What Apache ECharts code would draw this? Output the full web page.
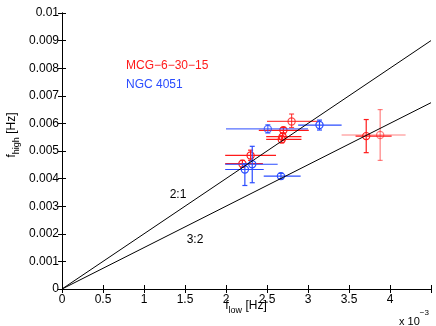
<!DOCTYPE html>
<html>
<head>
<meta charset="utf-8">
<script src="https://cdn.jsdelivr.net/npm/echarts@6/dist/echarts.min.js"></script>
<style>
  html, body { margin: 0; padding: 0; background: #fff; }
  #main { width: 436px; height: 326px; }
</style>
</head>
<body>
<div id="main"></div>
<script>
// f_low / f_high in Hz, error bars as lower / upper bounds
var mcgLow      = [0.00280, 0.00270, 0.00269, 0.00268, 0.00230, 0.00220, 0.00371, 0.00388];
var mcgHigh     = [0.00607, 0.00575, 0.00552, 0.00542, 0.00484, 0.00454, 0.00554, 0.00558];
var mcgLowMin   = [0.00250, 0.00240, 0.00249, 0.00249, 0.00199, 0.00199, 0.00358, 0.00341];
var mcgLowMax   = [0.00315, 0.00301, 0.00292, 0.00292, 0.00261, 0.00245, 0.00402, 0.00419];
var mcgHighMin  = [0.00585, 0.00565, 0.00540, 0.00530, 0.00466, 0.00441, 0.00494, 0.00466];
var mcgHighMax  = [0.00634, 0.00585, 0.00565, 0.00555, 0.00503, 0.00466, 0.00614, 0.00650];

var ngcLow      = [0.00251, 0.00314, 0.00232, 0.00223, 0.00267];
var ngcHigh     = [0.00580, 0.00594, 0.00452, 0.00433, 0.00409];
var ngcLowMin   = [0.00200, 0.00288, 0.00199, 0.00199, 0.00246];
var ngcLowMax   = [0.00300, 0.00341, 0.00263, 0.00246, 0.00291];
var ngcHighMin  = [0.00565, 0.00576, 0.00385, 0.00375, 0.00399];
var ngcHighMax  = [0.00595, 0.00612, 0.00517, 0.00454, 0.00419];

// resonance lines f_high = ratio * f_low
var lineLow  = [0, 0.0045];
var line21   = [0, 0.009];
var line32   = [0, 0.00675];

// drawing opacity per point (some points appear faded in the original)
var mcgAlpha = [0.8, 1, 1, 1, 1, 1, 1, 0.55];
var ngcAlpha = [0.8, 1, 1, 1, 1];

var RED = '#ff1a1a';
var BLUE = '#2a4cff';
var FONT = 'Liberation Sans, Arial, Helvetica, sans-serif';

function rows(lo, hi, loMin, loMax, hiMin, hiMax) {
  return lo.map(function (v, i) {
    return [v, hi[i], loMin[i], loMax[i], hiMin[i], hiMax[i]];
  });
}

function errItem(color, alpha) {
  return function (params, api) {
    var c = api.coord([api.value(0), api.value(1)]);
    var xl = api.coord([api.value(2), api.value(1)]);
    var xh = api.coord([api.value(3), api.value(1)]);
    var yl = api.coord([api.value(0), api.value(4)]);
    var yh = api.coord([api.value(0), api.value(5)]);
    var st = { stroke: color, lineWidth: 1.2, fill: null, opacity: alpha[params.dataIndex] };
    var cap = 2.5;
    return {
      type: 'group',
      children: [
        { type: 'line', shape: { x1: xl[0], y1: c[1], x2: xh[0], y2: c[1] }, style: st },
        { type: 'line', shape: { x1: c[0], y1: yl[1], x2: c[0], y2: yh[1] }, style: st },
        { type: 'line', shape: { x1: c[0] - cap, y1: yl[1], x2: c[0] + cap, y2: yl[1] }, style: st },
        { type: 'line', shape: { x1: c[0] - cap, y1: yh[1], x2: c[0] + cap, y2: yh[1] }, style: st },
        { type: 'circle', shape: { cx: c[0], cy: c[1], r: 3.6 }, style: st }
      ]
    };
  };
}

var chart = echarts.init(document.getElementById('main'), null, { renderer: 'canvas' });

var axisLine = { show: true, lineStyle: { color: '#000', width: 1 } };
var tickIn = { show: true, inside: true, length: 4, lineStyle: { color: '#000' } };

chart.setOption({
  animation: false,
  backgroundColor: '#fff',
  grid: { left: 62, top: 13, right: 5, bottom: 37 },
  xAxis: [
    {
      type: 'value', min: 0, max: 0.0045, interval: 0.0005,
      axisLine: axisLine, axisTick: tickIn, splitLine: { show: false },
      axisLabel: {
        color: '#000', fontSize: 12, fontFamily: FONT, margin: 5,
        formatter: function (v) {
          if (v > 0.00449) return '';
          return String(Math.round(v * 10000) / 10);
        }
      }
    },
    {
      type: 'value', position: 'top', min: 0, max: 0.0045, interval: 0.0005,
      axisLine: axisLine, axisTick: tickIn, axisLabel: { show: false }, splitLine: { show: false }
    }
  ],
  yAxis: [
    {
      type: 'value', min: 0, max: 0.01, interval: 0.001,
      axisLine: axisLine, axisTick: tickIn, splitLine: { show: false },
      axisLabel: {
        color: '#000', fontSize: 12, fontFamily: FONT, margin: 3,
        formatter: function (v) { return String(Math.round(v * 1000) / 1000); }
      }
    },
    {
      type: 'value', position: 'right', min: 0, max: 0.01, interval: 0.001,
      axisLine: axisLine, axisTick: tickIn, axisLabel: { show: false }, splitLine: { show: false }
    }
  ],
  series: [
    {
      type: 'line', silent: true, symbol: 'none',
      lineStyle: { color: '#000', width: 1 },
      data: lineLow.map(function (v, i) { return [v, line21[i]]; })
    },
    {
      type: 'line', silent: true, symbol: 'none',
      lineStyle: { color: '#000', width: 1 },
      data: lineLow.map(function (v, i) { return [v, line32[i]]; })
    },
    {
      type: 'custom', name: 'MCG−6−30−15',
      renderItem: errItem(RED, mcgAlpha),
      encode: { x: 0, y: 1 },
      data: rows(mcgLow, mcgHigh, mcgLowMin, mcgLowMax, mcgHighMin, mcgHighMax)
    },
    {
      type: 'custom', name: 'NGC 4051',
      renderItem: errItem(BLUE, ngcAlpha),
      encode: { x: 0, y: 1 },
      data: rows(ngcLow, ngcHigh, ngcLowMin, ngcLowMax, ngcHighMin, ngcHighMax)
    }
  ],
  graphic: [
    { type: 'text', left: 126, top: 60, style: { text: 'MCG−6−30−15', fill: RED, font: '12px ' + FONT } },
    { type: 'text', left: 126, top: 79, style: { text: 'NGC 4051', fill: BLUE, font: '12px ' + FONT } },
    { type: 'text', x: 178, y: 195, style: { text: '2:1', fill: '#000', font: '12px ' + FONT, align: 'center', verticalAlign: 'middle' } },
    { type: 'text', x: 195, y: 240, style: { text: '3:2', fill: '#000', font: '12px ' + FONT, align: 'center', verticalAlign: 'middle' } },
    {
      type: 'text', x: 246, y: 306,
      style: {
        text: '{a|f}{b|low}{a| [Hz]}', align: 'center', verticalAlign: 'middle',
        rich: {
          a: { fontSize: 12, fontFamily: FONT, fill: '#000', lineHeight: 18, verticalAlign: 'middle' },
          b: { fontSize: 9, fontFamily: FONT, fill: '#000', lineHeight: 18, verticalAlign: 'bottom' }
        }
      }
    },
    {
      type: 'text', x: 12, y: 135, rotation: Math.PI / 2,
      style: {
        text: '{a|f}{b|high}{a| [Hz]}', align: 'center', verticalAlign: 'middle',
        rich: {
          a: { fontSize: 12, fontFamily: FONT, fill: '#000', lineHeight: 18, verticalAlign: 'middle' },
          b: { fontSize: 9, fontFamily: FONT, fill: '#000', lineHeight: 18, verticalAlign: 'bottom' }
        }
      }
    },
    {
      type: 'text', x: 414, y: 318,
      style: {
        text: '{a|x 10}{b|−3}', align: 'center', verticalAlign: 'middle',
        rich: {
          a: { fontSize: 11, fontFamily: FONT, fill: '#000', lineHeight: 18, verticalAlign: 'bottom' },
          b: { fontSize: 8, fontFamily: FONT, fill: '#000', lineHeight: 18, verticalAlign: 'top' }
        }
      }
    }
  ]
});
</script>
</body>
</html>
